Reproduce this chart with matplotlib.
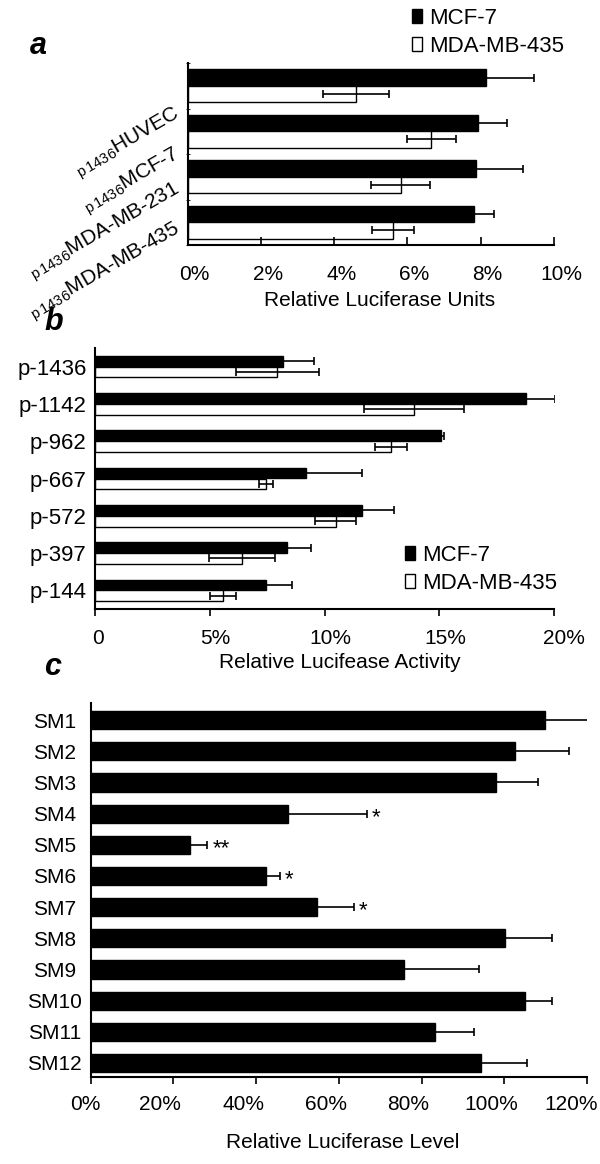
import numpy as np
import matplotlib.pyplot as plt
from matplotlib.patches import Patch

plt.rcParams['font.family'] = ['Liberation Sans', 'DejaVu Sans']

# panel a: p1436 promoter in four cell lines
a_lines = ['HUVEC', 'MCF-7', 'MDA-MB-231', 'MDA-MB-435']
a_mcf7 = [8.15, 7.92, 7.87, 7.82]
a_mcf7_err = [1.3, 0.8, 1.28, 0.55]
a_mda = [4.6, 6.65, 5.81, 5.6]
a_mda_err = [0.9, 0.67, 0.8, 0.57]
a_ticks = [0, 2, 4, 6, 8, 10]

# panel b: promoter deletions
b_promoters = ['p-1436', 'p-1142', 'p-962', 'p-667', 'p-572', 'p-397', 'p-144']
b_mcf7 = [8.2, 18.8, 15.07, 9.19, 11.65, 8.36, 7.44]
b_mcf7_err = [1.36, 1.25, 0.15, 2.45, 1.4, 1.03, 1.16]
b_mda = [7.94, 13.9, 12.88, 7.44, 10.49, 6.41, 5.57]
b_mda_err = [1.8, 2.2, 0.7, 0.3, 0.9, 1.44, 0.58]
b_ticks = [0, 5, 10, 15, 20]
b_ticklabels = ['0', '5%', '10%', '15%', '20%']

# panel c: site mutants
c_mutants = ['SM1', 'SM2', 'SM3', 'SM4', 'SM5', 'SM6',
             'SM7', 'SM8', 'SM9', 'SM10', 'SM11', 'SM12']
c_level = [109.9, 102.5, 97.9, 47.8, 23.9, 42.3, 54.7, 100.2, 75.8, 104.9, 83.2, 94.3]
c_err = [11.7, 13.2, 10.3, 18.9, 4.3, 3.5, 9.0, 11.4, 18.1, 6.7, 9.5, 11.3]
c_marks = ['', '', '', '*', '**', '*', '*', '', '', '', '', '']
c_ticks = [0, 20, 40, 60, 80, 100, 120]

fig = plt.figure(figsize=(6, 11.64), dpi=100)
W, H = 600, 1164


def box(left, top, right, bottom):
    return [left / W, 1 - bottom / H, (right - left) / W, (bottom - top) / H]


def style(ax):
    ax.spines['top'].set_visible(False)
    ax.spines['right'].set_visible(False)
    for s in ['left', 'bottom']:
        ax.spines[s].set_linewidth(1.5)


def xlabels(ax, ticks, labels, dx, dy, size=15):
    # Excel puts the labels a little off-centre; draw them by hand
    ax.set_xticks(ticks)
    ax.set_xticklabels([])
    for t, lab, d in zip(ticks, labels, dx):
        ax.annotate(lab, xy=(t, 0), xycoords=ax.get_xaxis_transform(),
                    xytext=(d, -dy), textcoords='offset pixels',
                    ha='center', va='center', fontsize=size, annotation_clip=False)


def grouped(ax, top_vals, top_err, low_vals, low_err, h):
    y = np.arange(len(top_vals))
    ax.barh(y - h / 2, top_vals, height=h, color='black', edgecolor='black', lw=1)
    ax.barh(y + h / 2, low_vals, height=h, color='white', edgecolor='black', lw=1)
    ax.errorbar(low_vals, y + h / 2, xerr=low_err, fmt='none', ecolor='black',
                elinewidth=1.2, capsize=3, capthick=1.2)
    ax.errorbar(top_vals, y - h / 2, xerr=top_err, fmt='none', ecolor='black',
                elinewidth=1.2, capsize=3, capthick=1.2)
    return y


def legend(x, y):
    fig.legend([Patch(facecolor='black', edgecolor='black'), Patch(facecolor='white', edgecolor='black')],
               ['MCF-7', 'MDA-MB-435'], loc='upper left', bbox_to_anchor=(x / W, 1 - y / H),
               frameon=False, fontsize=16, handlelength=0.45, handleheight=0.6,
               handletextpad=0.3, labelspacing=0.3, borderpad=0, borderaxespad=0)


# ---- panel a
ax = fig.add_axes(box(187.7, 63, 554, 245))
y = grouped(ax, a_mcf7, a_mcf7_err, a_mda, a_mda_err, 0.36)
ax.set_ylim(len(a_lines) - 0.5, -0.5)
ax.set_xlim(0, 10)
xlabels(ax, a_ticks, ['%d%%' % t for t in a_ticks], [7] * 6, 29)
ax.set_yticks(y)
ax.set_yticklabels([])
for yi, name, dy in zip(y, a_lines, [17, 12, 1, -4]):
    ax.annotate(r'$\mathregular{_{p\,1436}}$' + name, xy=(0, yi),
                xycoords=ax.get_yaxis_transform(), xytext=(-15, -dy),
                textcoords='offset pixels', rotation=30, rotation_mode='anchor',
                ha='right', va='top', fontsize=15, annotation_clip=False)
ax.set_yticks(np.arange(len(a_lines) + 1) - 0.5, minor=True)
ax.tick_params(axis='y', which='major', length=0)
ax.tick_params(axis='y', which='minor', length=3, direction='inout')
ax.tick_params(axis='x', direction='in', length=6, width=1.2)
ax.set_xlabel('Relative Luciferase Units', fontsize=15, va='center')
ax.xaxis.set_label_coords((380 - 187.7) / 366.3, (245 - 300) / 182)
style(ax)
fig.text(30 / W, 1 - 46 / H, 'a', fontsize=22, fontweight='bold', style='italic', va='center')
legend(412, 8)

# ---- panel b
ax = fig.add_axes(box(95, 348, 554, 609))
y = grouped(ax, b_mcf7, b_mcf7_err, b_mda, b_mda_err, 0.29)
ax.set_ylim(len(b_promoters) - 0.5, -0.5)
ax.set_xlim(0, 20)
xlabels(ax, b_ticks, b_ticklabels, [3, 6, 6, 6, 10], 29)
ax.set_yticks(y)
ax.set_yticklabels(b_promoters, fontsize=16)
ax.tick_params(axis='y', length=0, pad=6)
ax.tick_params(axis='x', direction='out', length=5, width=1.2)
ax.set_xlabel('Relative Lucifease Activity', fontsize=15, va='center')
ax.xaxis.set_label_coords((340 - 95) / 459, (609 - 662) / 261)
style(ax)
fig.text(44 / W, 1 - 322 / H, 'b', fontsize=22, fontweight='bold', style='italic', va='center')
legend(405, 545)

# ---- panel c
ax = fig.add_axes(box(90.7, 703, 587, 1077))
y = np.arange(len(c_mutants))
ax.barh(y, c_level, height=0.58, color='black', edgecolor='black', lw=1)
ax.errorbar(c_level, y, xerr=c_err, fmt='none', ecolor='black',
            elinewidth=1.2, capsize=3, capthick=1.2)
for yi, v, e, m in zip(y, c_level, c_err, c_marks):
    if m:
        ax.text(v + e + 1.2, yi + 0.12, m, fontsize=16, ha='left', va='center')
ax.set_ylim(len(c_mutants) - 0.55, -0.55)
ax.set_xlim(0, 120)
xlabels(ax, c_ticks, ['%d%%' % t for t in c_ticks], [-5, -13, -13, -13, -13, -13, -16], 28)
ax.set_yticks(y)
ax.set_yticklabels(c_mutants, fontsize=15, ha='center')
ax.tick_params(axis='y', length=0, pad=26)
ax.tick_params(axis='x', direction='out', length=5, width=1.2)
ax.set_xlabel('Relative Luciferase Level', fontsize=15, va='center')
ax.xaxis.set_label_coords((343 - 90.7) / 496.3, (1077 - 1142) / 374)
style(ax)
fig.text(44 / W, 1 - 667 / H, 'c', fontsize=22, fontweight='bold', style='italic', va='center')

fig.savefig('out.png', dpi=100)
